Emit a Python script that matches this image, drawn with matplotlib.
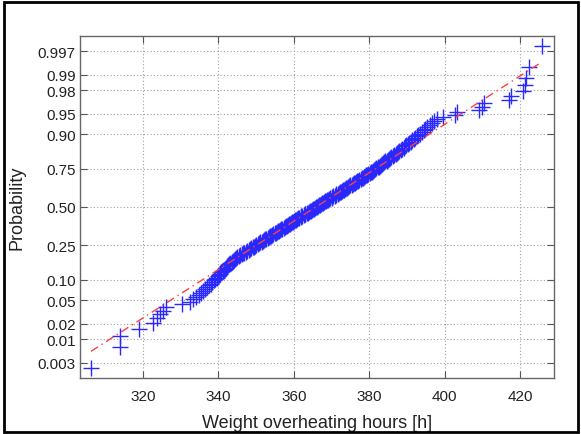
import numpy as np
import matplotlib
matplotlib.use('Agg')
import matplotlib.pyplot as plt
from matplotlib.patches import Rectangle

plt.rcParams['font.family'] = ['Liberation Sans', 'DejaVu Sans']

# sorted sample of weighted overheating hours
hours = [
    306.2, 313.9, 314.0, 319.0, 322.7, 323.8, 324.5, 325.4, 326.1, 330.3,
    332.5, 333.3, 334.0, 334.8, 335.4, 335.9, 336.5, 337.0, 337.5, 338.0,
    338.4, 338.8, 339.2, 339.6, 339.9, 340.2, 340.5, 340.8, 341.1, 341.4,
    341.7, 342.0, 342.3, 342.6, 342.9, 343.2, 343.5, 343.8, 344.1, 344.4,
    344.7, 345.0, 345.4, 345.8, 346.2, 346.6, 346.9, 347.3, 347.6, 348.0,
    348.4, 348.7, 349.1, 349.4, 349.8, 350.1, 350.5, 350.8, 351.1, 351.5,
    351.8, 352.1, 352.4, 352.7, 353.1, 353.4, 353.7, 354.0, 354.3, 354.6,
    354.9, 355.2, 355.5, 355.8, 356.1, 356.4, 356.7, 357.0, 357.3, 357.6,
    357.9, 358.2, 358.4, 358.7, 359.0, 359.3, 359.6, 359.8, 360.1, 360.4,
    360.7, 360.9, 361.2, 361.5, 361.8, 362.0, 362.3, 362.6, 362.9, 363.1,
    363.4, 363.7, 364.0, 364.2, 364.5, 364.8, 365.0, 365.3, 365.6, 365.9,
    366.1, 366.4, 366.7, 367.0, 367.2, 367.5, 367.8, 368.0, 368.3, 368.6,
    368.9, 369.1, 369.4, 369.7, 370.0, 370.2, 370.5, 370.8, 371.1, 371.3,
    371.6, 371.9, 372.2, 372.4, 372.7, 373.0, 373.3, 373.6, 373.8, 374.1,
    374.4, 374.7, 375.0, 375.3, 375.6, 375.9, 376.2, 376.5, 376.8, 377.1,
    377.4, 377.7, 378.0, 378.3, 378.6, 378.9, 379.2, 379.5, 379.8, 380.1,
    380.4, 380.7, 381.0, 381.3, 381.6, 381.9, 382.2, 382.5, 382.8, 383.1,
    383.4, 383.7, 384.0, 384.3, 384.6, 384.9, 385.2, 385.6, 385.9, 386.3,
    386.6, 387.0, 387.3, 387.7, 388.0, 388.4, 388.7, 389.1, 389.4, 389.8,
    390.2, 390.6, 391.0, 391.4, 391.8, 392.2, 392.6, 393.0, 393.4, 393.9,
    394.4, 394.9, 395.4, 396.0, 396.6, 397.2, 397.9, 399.5, 402.8, 403.3,
    409.0, 409.8, 410.5, 417.0, 417.6, 420.8, 421.2, 421.6, 422.5, 425.7,
]

prob_ticks = [0.003, 0.01, 0.02, 0.05, 0.10, 0.25, 0.50, 0.75, 0.90, 0.95, 0.98, 0.99, 0.997]
prob_labels = ['0.003', '0.01', '0.02', '0.05', '0.10', '0.25', '0.50',
               '0.75', '0.90', '0.95', '0.98', '0.99', '0.997']
x_ticks = [320, 340, 360, 380, 400, 420]


def norm_ppf(p):
    # Acklam's rational approximation of the inverse normal cdf
    p = np.asarray(p, dtype=float)
    a = [-3.969683028665376e+01, 2.209460984245205e+02, -2.759285104469687e+02,
         1.383577518672690e+02, -3.066479806614716e+01, 2.506628277459239e+00]
    b = [-5.447609879822406e+01, 1.615858368580409e+02, -1.556989798598866e+02,
         6.680131188771972e+01, -1.328068155288572e+01]
    c = [-7.784894002430293e-03, -3.223964580411365e-01, -2.400758277161838e+00,
         -2.549732539343734e+00, 4.374664141464968e+00, 2.938163982698783e+00]
    d = [7.784695709041462e-03, 3.224671290700398e-01, 2.445134137142996e+00,
         3.754408661907416e+00]
    plow = 0.02425
    out = np.empty_like(p)
    lo = p < plow
    hi = p > 1 - plow
    mid = ~(lo | hi)
    q = np.sqrt(-2 * np.log(p[lo]))
    out[lo] = (((((c[0]*q + c[1])*q + c[2])*q + c[3])*q + c[4])*q + c[5]) / \
              ((((d[0]*q + d[1])*q + d[2])*q + d[3])*q + 1)
    q = np.sqrt(-2 * np.log(1 - p[hi]))
    out[hi] = -(((((c[0]*q + c[1])*q + c[2])*q + c[3])*q + c[4])*q + c[5]) / \
               ((((d[0]*q + d[1])*q + d[2])*q + d[3])*q + 1)
    q = p[mid] - 0.5
    r = q * q
    out[mid] = (((((a[0]*r + a[1])*r + a[2])*r + a[3])*r + a[4])*r + a[5]) * q / \
               (((((b[0]*r + b[1])*r + b[2])*r + b[3])*r + b[4])*r + 1)
    return out


x = np.array(hours)
n = len(x)
pp = (np.arange(1, n + 1) - 0.5) / n
z = norm_ppf(pp)

# reference line through the quartiles, extended to the data range
q1, q3 = np.percentile(x, [25, 75])
zq = norm_ppf([0.25, 0.75])
xs = np.array([x.min(), x.max()])
zs = zq[0] + (xs - q1) * (zq[1] - zq[0]) / (q3 - q1)

fig = plt.figure(figsize=(5.81, 4.35), dpi=100)
ax = fig.add_axes([80 / 581, 1 - 379 / 435, 474 / 581, 342 / 435])

ax.plot(x, z, '+', color='#2828ff', ms=11, mew=1.0, zorder=2)
ax.plot(xs, zs, color='#ff4040', lw=1, linestyle=(0, (6, 3, 1, 3)), zorder=3)

ax.set_xlim(303.3, 429.0)
ax.set_ylim(-3.012, 3.012)
ax.set_xticks(x_ticks)
ax.set_yticks(norm_ppf(prob_ticks))
ax.set_yticklabels(prob_labels)

ax.grid(True, linestyle=(0, (1, 2)), color='#a0a0a0', lw=0.8)
ax.set_axisbelow(True)
ax.tick_params(direction='in', top=True, right=True, length=5, width=0.8,
               color='#555555', labelcolor='#222222', labelsize=11)
ax.tick_params(axis='x', pad=8)
ax.tick_params(axis='y', pad=3)
for s in ax.spines.values():
    s.set_color('#666666')
    s.set_linewidth(1)

ax.set_xlabel('Weight overheating hours [h]', fontsize=13, color='#222222', labelpad=8)
ax.set_ylabel('Probability', fontsize=13, color='#222222', labelpad=9)

fig.add_artist(Rectangle((4 / 581, 2 / 435), 574 / 581, 430 / 435,
                         transform=fig.transFigure, fill=False,
                         edgecolor='black', lw=2))

fig.savefig('out.png', dpi=100)
